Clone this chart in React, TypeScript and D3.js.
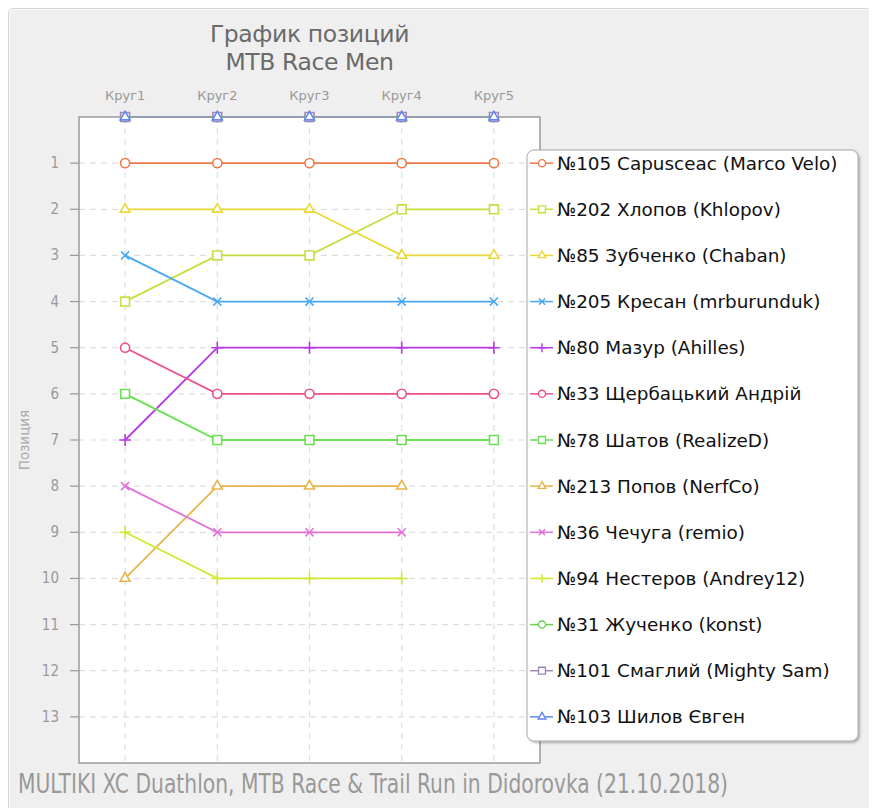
import React, { useEffect } from "react";
import * as d3 from "d3";

// laps and y ticks
const laps = ["Круг1", "Круг2", "Круг3", "Круг4", "Круг5"];
const positionTicks = [1, 2, 3, 4, 5, 6, 7, 8, 9, 10, 11, 12, 13];

// rider names (legend order)
const riders = [
  "№105 Capusceac (Marco Velo)",
  "№202 Хлопов (Khlopov)",
  "№85 Зубченко (Chaban)",
  "№205 Кресан (mrburunduk)",
  "№80 Мазур (Ahilles)",
  "№33 Щербацький Андрій",
  "№78 Шатов (RealizeD)",
  "№213 Попов (NerfCo)",
  "№36 Чечуга (remio)",
  "№94 Нестеров (Andrey12)",
  "№31 Жученко (konst)",
  "№101 Смаглий (Mighty Sam)",
  "№103 Шилов Євген",
];

// positions per lap (null = no lap), 0 = not classified (drawn on top edge)
const pos105 = [1, 1, 1, 1, 1];
const pos202 = [4, 3, 3, 2, 2];
const pos85 = [2, 2, 2, 3, 3];
const pos205 = [3, 4, 4, 4, 4];
const pos80 = [7, 5, 5, 5, 5];
const pos33 = [5, 6, 6, 6, 6];
const pos78 = [6, 7, 7, 7, 7];
const pos213 = [10, 8, 8, 8, null];
const pos36 = [8, 9, 9, 9, null];
const pos94 = [9, 10, 10, 10, null];
const pos31 = [0, 0, 0, 0, 0];
const pos101 = [0, 0, 0, 0, 0];
const pos103 = [0, 0, 0, 0, 0];

const colors = [
  "#f07848", "#c2e042", "#e8d838", "#48a8f0", "#b63ae8", "#f05088", "#6ae052",
  "#e8b44a", "#e072d8", "#d2e830", "#68d050", "#a088b8", "#6088f0",
];
const symbolNames = [
  "circle", "square", "triangle", "times", "plus",
  "circle", "square", "triangle", "times", "plus",
  "circle", "square", "triangle",
];

const seriesValues = [
  pos105, pos202, pos85, pos205, pos80, pos33, pos78, pos213, pos36, pos94, pos31, pos101, pos103,
];

const W = 864;
const H = 812;
const plot = { left: 71, right: 532, top: 109, bottom: 755 };

const symbolTypes: Record<string, any> = {
  circle: d3.symbolCircle,
  square: d3.symbolSquare2,
  triangle: d3.symbolTriangle2,
  times: d3.symbolTimes,
  plus: d3.symbolPlus,
};
const symbolSizes: Record<string, number> = {
  circle: 66,
  square: 100,
  triangle: 70,
  times: 44,
  plus: 48,
};

const markerPath = (name: string, scale = 1) =>
  d3.symbol(symbolTypes[name], symbolSizes[name] * scale)() as string;

const App = () => {
  useEffect(() => {
    document.documentElement.style.overflow = "hidden";
    document.body.style.overflow = "hidden";
  }, []);

  const x = d3.scalePoint<string>().domain(laps).range([plot.left, plot.right]).padding(0.5);
  const y = d3.scaleLinear().domain([0, 14]).range([plot.top, plot.bottom]);

  const series = riders.map((name, i) => ({
    name,
    color: colors[i],
    symbol: symbolNames[i],
    values: seriesValues[i],
  }));

  const line = d3
    .line<number | null>()
    .defined(d => d !== null)
    .x((_, i) => x(laps[i]) as number)
    .y(d => y(d as number));

  const cx = (plot.left + plot.right) / 2;
  const legend = { x: 519, y: 142, w: 331, h: 591 };

  return (
    <svg width={W} height={H} style={{ display: "block" }} fontFamily="DejaVu Sans">
      <defs>
        <filter id="shadow" x="-5%" y="-5%" width="110%" height="110%">
          <feDropShadow dx="1.5" dy="1.5" stdDeviation="1.2" floodColor="#000" floodOpacity="0.3" />
        </filter>
      </defs>

      {/* frame */}
      <rect x={0.5} y={0.5} width={W - 1} height={H + 10} rx={5} fill="#efefef" stroke="#d4d4d4" />
      <rect x={1.5} y={1.5} width={W - 3} height={H + 10} rx={4} fill="none" stroke="#fafafa" />

      {/* title */}
      <g fill="#6a6a6a" fontSize={23.5} textAnchor="middle" letterSpacing={-0.4}>
        <text x={cx} y={34}>График позиций</text>
        <text x={cx} y={61.5}>MTB Race Men</text>
      </g>

      {/* plot background */}
      <rect x={plot.left} y={plot.top} width={plot.right - plot.left} height={plot.bottom - plot.top} fill="#fff" />

      {/* grid */}
      <g stroke="#dedede" strokeWidth={1.2} strokeDasharray="6,5">
        {laps.map(l => (
          <line key={l} x1={x(l)} x2={x(l)} y1={plot.top} y2={plot.bottom} />
        ))}
        {positionTicks.map(t => (
          <line key={t} x1={plot.left} x2={plot.right} y1={y(t)} y2={y(t)} />
        ))}
      </g>

      {/* lap labels */}
      <g fill="#999" fontSize={13} textAnchor="middle">
        {laps.map(l => (
          <text key={l} x={x(l)} y={92}>{l}</text>
        ))}
      </g>

      {/* y axis */}
      <g>
        {positionTicks.map(t => (
          <g key={t}>
            <line x1={62} x2={plot.left} y1={y(t)} y2={y(t)} stroke="#999" strokeWidth={1.2} />
            <text
              x={51}
              y={y(t) + 5}
              fill="#999"
              fontSize={15}
              textAnchor="end"
              fontFamily="Liberation Sans Narrow, DejaVu Sans Condensed"
            >
              {t}
            </text>
          </g>
        ))}
        <text
          transform={`translate(21,${(plot.top + plot.bottom) / 2}) rotate(-90)`}
          fill="#aaa"
          fontSize={13.5}
          textAnchor="middle"
        >
          Позиция
        </text>
      </g>

      {/* series lines */}
      <g fill="none" strokeWidth={1.8}>
        {series.map(s => (
          <path key={s.name} d={line(s.values) as string} stroke={s.color} />
        ))}
      </g>

      {/* plot border */}
      <rect
        x={plot.left}
        y={plot.top}
        width={plot.right - plot.left}
        height={plot.bottom - plot.top}
        fill="none"
        stroke="#a0a0a0"
        strokeWidth={1.6}
      />

      {/* markers */}
      {series.map(s => (
        <g key={s.name}>
          {s.values.map((v, i) =>
            v === null ? null : (
              <path
                key={i}
                transform={`translate(${x(laps[i])},${y(v)})`}
                d={markerPath(s.symbol)}
                fill={s.symbol === "times" || s.symbol === "plus" ? "none" : "#fff"}
                stroke={s.color}
                strokeWidth={1.6}
              />
            )
          )}
        </g>
      ))}

      {/* legend */}
      <rect x={legend.x} y={legend.y} width={legend.w} height={legend.h} rx={7} fill="#fff" stroke="#a8a8a8" filter="url(#shadow)" />
      {series.map((s, i) => {
        const ly = y(i + 1);
        return (
          <g key={s.name}>
            <line x1={522} x2={545} y1={ly} y2={ly} stroke={s.color} strokeWidth={1.5} />
            <path
              transform={`translate(534,${ly})`}
              d={markerPath(s.symbol, 0.6)}
              fill={s.symbol === "times" || s.symbol === "plus" ? "none" : "#fff"}
              stroke={s.color}
              strokeWidth={1.4}
            />
            <text x={549} y={ly + 6.5} fontSize={18.4} fill="#111">{s.name}</text>
          </g>
        );
      })}

      {/* footer */}
      <text
        x={10}
        y={785}
        fill="#999"
        fontSize={27}
        fontFamily="DejaVu Sans Condensed"
        textLength={710}
        lengthAdjust="spacingAndGlyphs"
      >
        MULTIKI XC Duathlon, MTB Race &amp; Trail Run in Didorovka (21.10.2018)
      </text>
    </svg>
  );
};

export default App;
